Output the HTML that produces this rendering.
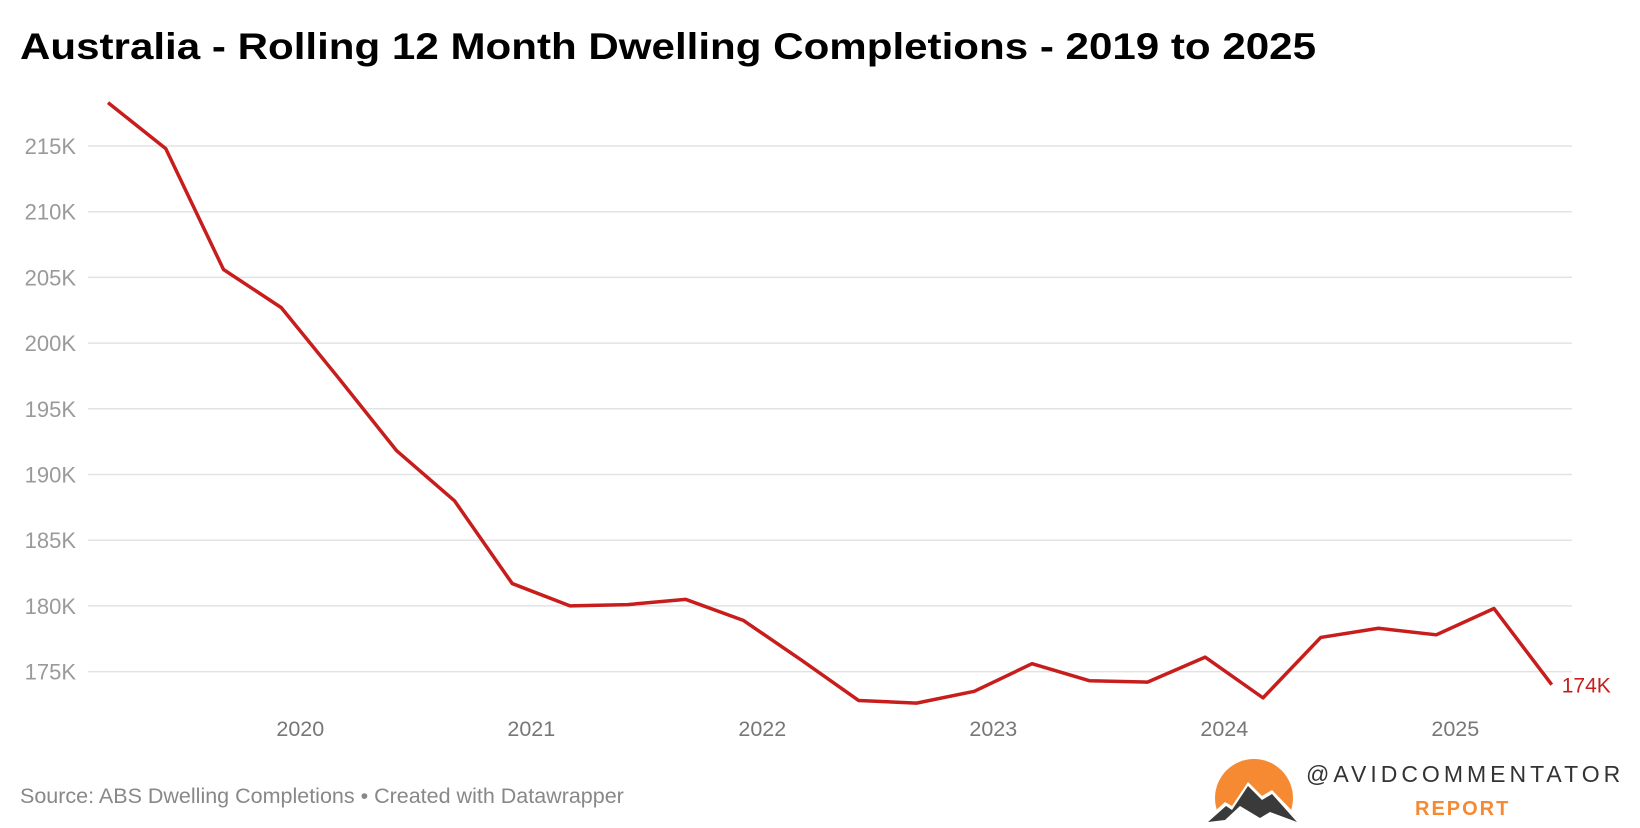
<!DOCTYPE html>
<html><head><meta charset="utf-8"><style>
html,body{margin:0;padding:0;background:#fff;}
svg{display:block;font-family:"Liberation Sans",sans-serif;}
</style></head><body>
<svg id="chart" width="1640" height="828" viewBox="0 0 1640 828">
<text x="20" y="59" font-size="37" font-weight="bold" fill="#000" textLength="1296" lengthAdjust="spacingAndGlyphs">Australia - Rolling 12 Month Dwelling Completions - 2019 to 2025</text>
<g id="grid"></g><g id="yticks"></g><g id="xticks"></g>
<path id="line" fill="none" stroke="#c71e1d" stroke-width="3.5" stroke-linejoin="round"/>
<text id="endlabel" font-size="21" fill="#c71e1d"></text>
<text x="20" y="803" font-size="21.5" fill="#888">Source: ABS Dwelling Completions • Created with Datawrapper</text>
<g>
<circle cx="1254" cy="798" r="39" fill="#f58a33"/>
<polygon points="1203,822 1225,802 1232,806 1248,782 1262,796 1272,790 1303,822" fill="#fff"/>
<polygon points="1208,822 1226,806 1232,810 1248,786 1262,800 1272,794 1297,822 1270,812 1260,818 1240,806 1225,820" fill="#3a3a3a"/>
<rect x="1200" y="822" width="110" height="10" fill="#fff"/>
<text x="1306" y="782" font-size="23" fill="#333" letter-spacing="4">@AVIDCOMMENTATOR</text>
<text x="1415" y="815" font-size="20" font-weight="bold" fill="#f58a33" letter-spacing="2">REPORT</text>
</g>
</svg>
<script>
const values=[218.3,214.8,205.6,202.7,197.3,191.8,188.0,181.7,180.0,180.1,180.5,178.9,175.9,172.8,172.6,173.5,175.6,174.3,174.2,176.1,173.0,177.6,178.3,177.8,179.8,174.0];
const yTicks=[175,180,185,190,195,200,205,210,215];
const xYears=["2020","2021","2022","2023","2024","2025"];
const xYearPos=[3.33,7.33,11.33,15.33,19.33,23.33];
const endLabel="174K";
const NS="http://www.w3.org/2000/svg";
const xS=i=>108+i*57.75;
const yS=v=>146+(215-v)*13.14;
function mk(t,a,p){const e=document.createElementNS(NS,t);for(const k in a)e.setAttribute(k,a[k]);p.appendChild(e);return e;}
const grid=document.getElementById('grid'),yt=document.getElementById('yticks'),xt=document.getElementById('xticks');
yTicks.forEach(v=>{
const l=mk('line',{x1:88,x2:1572,y1:yS(v),y2:yS(v),stroke:'#e3e3e3','stroke-width':1.5},grid);


const t=mk('text',{x:76,y:yS(v)+8,'text-anchor':'end','font-size':22,fill:'#9a9a9a'},yt);
t.textContent=v+'K';


});
xYears.forEach((y,i)=>{
const t=mk('text',{x:xS(xYearPos[i]),y:736,'text-anchor':'middle','font-size':21.5,fill:'#777'},xt);
t.textContent=y;


});
document.getElementById('line').setAttribute('d',values.map((v,i)=>(i?'L':'M')+xS(i)+' '+yS(v)).join(' '));
const el=document.getElementById('endlabel');
const n=values.length-1;
el.setAttribute('x',xS(n)+10);el.setAttribute('y',yS(values[n])+8);el.textContent=endLabel;
</script>
</body></html>
